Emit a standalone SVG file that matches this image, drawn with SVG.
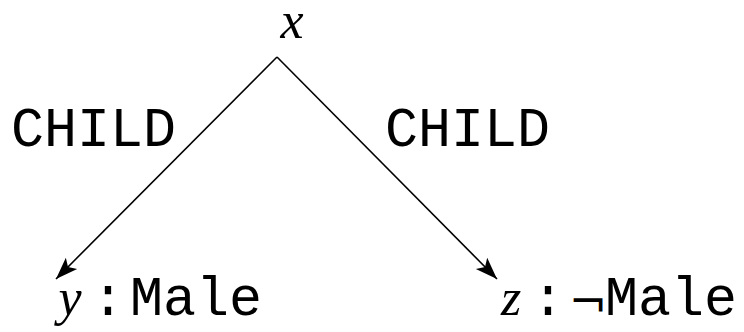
<svg xmlns="http://www.w3.org/2000/svg" width="744" height="332" viewBox="0 0 744 332">
<style>
.mono{font-family:"Liberation Mono","Courier New",monospace;font-size:55px;fill:#000}
.math{font-family:"Liberation Serif","Times New Roman",serif;font-style:italic;font-size:52px;fill:#000}
.sym{font-family:"DejaVu Serif","Liberation Serif",serif;font-size:46px;fill:#000}
.edge{stroke:#000;stroke-width:1.6;fill:none;marker-end:url(#arr)}
</style>
<defs>
<marker id="arr" markerUnits="userSpaceOnUse" markerWidth="26" markerHeight="20" refX="22" refY="8" orient="auto" viewBox="0 0 26 16">
<path d="M0,0 L22,8 L0,16 L5,8 Z" fill="#000"/>
</marker>
</defs>
<rect width="744" height="332" fill="#fff"/>
<g id="connectors">
<line class="edge" x1="277" y1="57" x2="56" y2="279"/>
<line class="edge" x1="277" y1="57" x2="497" y2="279"/>
</g>
<g id="node-x">
<text class="math" x="292" y="38" text-anchor="middle">x</text>
</g>
<g id="label-left">
<text class="mono" x="11" y="146">CHILD</text>
</g>
<g id="label-right">
<text class="mono" x="385" y="146">CHILD</text>
</g>
<g id="node-y">
<text class="math" x="70" y="315" text-anchor="middle">y</text>
<text class="mono" x="108" y="315" text-anchor="middle">:</text>
<text class="mono" x="130" y="315">Male</text>
</g>
<g id="node-z">
<text class="math" x="511" y="315" text-anchor="middle">z</text>
<text class="mono" x="548" y="315" text-anchor="middle">:</text>
<text class="sym" x="588" y="318" text-anchor="middle">¬</text>
<text class="mono" x="605" y="315">Male</text>
</g>
</svg>
